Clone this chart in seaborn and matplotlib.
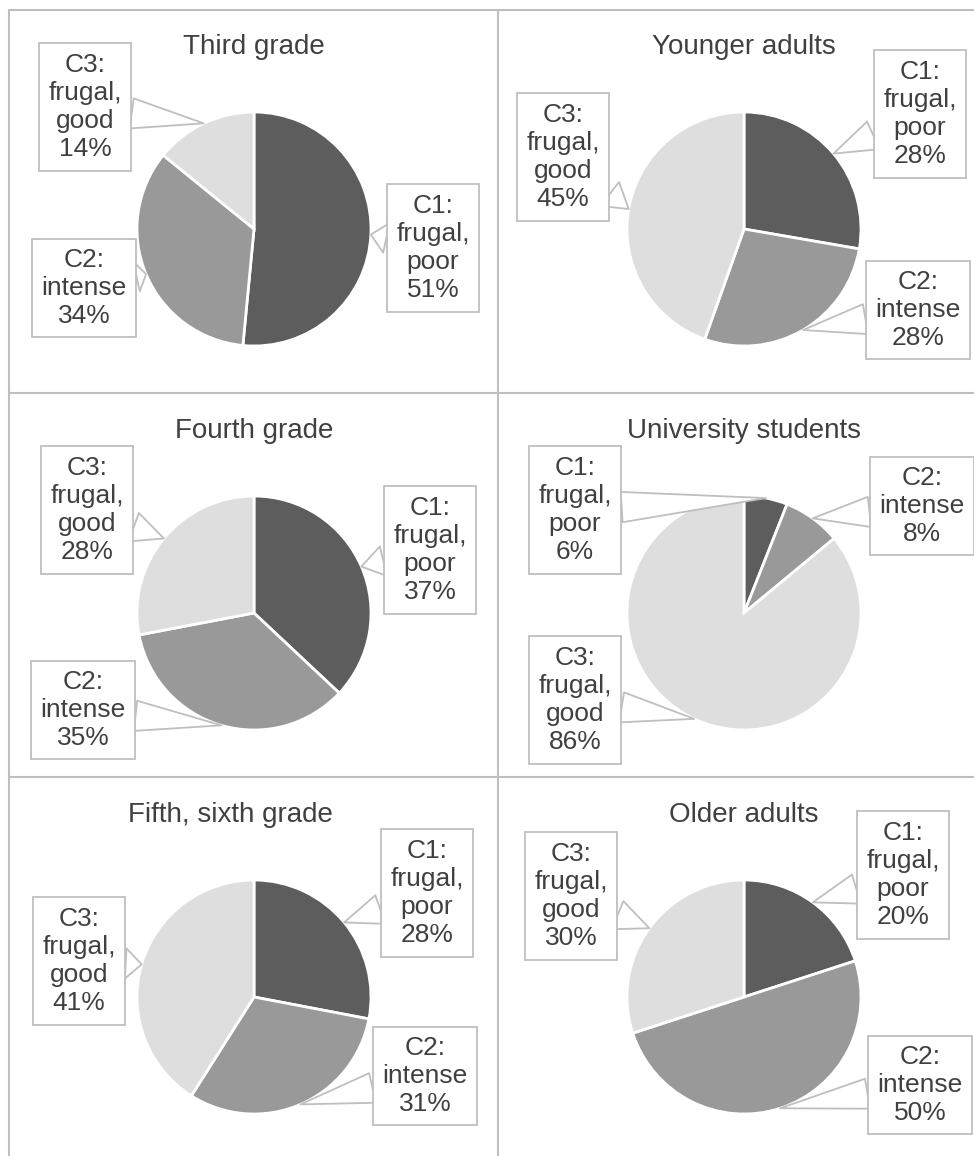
import numpy as np
import matplotlib
matplotlib.use('Agg')
import matplotlib.pyplot as plt
from matplotlib.lines import Line2D
import seaborn as sns

# data (percent of each group per cluster)
groups = ['Third grade', 'Younger adults', 'Fourth grade',
          'University students', 'Fifth, sixth grade', 'Older adults']
clusters = ['C1:\nfrugal,\npoor', 'C2:\nintense', 'C3:\nfrugal,\ngood']
third_grade = [51, 34, 14]
younger_adults = [28, 28, 45]
fourth_grade = [37, 35, 28]
university_students = [6, 8, 86]
fifth_sixth_grade = [28, 31, 41]
older_adults = [20, 50, 30]
shares = [third_grade, younger_adults, fourth_grade,
          university_students, fifth_sixth_grade, older_adults]

# layout (pixels, y downwards) - pie centres, title and label box offsets
W, H = 974, 1156
R = 117
S = 245
centres = [(254, 229), (744, 229), (254, 613), (744, 613), (254, 997), (744, 997)]
title_off = [(0, -182), (0, -182), (0, -182), (0, -182), (-24, -182), (0, -182)]
label_off = [
    [(179, 19), (-170, 59), (-169, -122)],
    [(176, -115), (174, 81), (-181, -72)],
    [(176, -63), (-171, 97), (-167, -103)],
    [(-169, -103), (178, -107), (-169, 87)],
    [(173, -104), (171, 79), (-175, -36)],
    [(159, -122), (176, 88), (-173, -101)],
]

sns.set_theme(style='white')
plt.rcParams['font.family'] = ['Liberation Sans', 'DejaVu Sans']
palette = sns.color_palette(['#5d5d5d', '#999999', '#dedede'])
TXT = '#404040'
EDGE = '#bfbfbf'

fig = plt.figure(figsize=(W / 100, H / 100), dpi=100)
fig.patch.set_facecolor('white')

# table grid lines
for (x0, y0, x1, y1) in [(9, 10, 974, 10), (9, 393, 974, 393), (9, 777, 974, 777),
                         (9, 10, 9, 1156), (498, 10, 498, 1156)]:
    fig.add_artist(Line2D([x0 / W, x1 / W], [1 - y0 / H, 1 - y1 / H],
                          color=EDGE, lw=1.5))

for i, (vals, title) in enumerate(zip(shares, groups)):
    cx, cy = centres[i]
    ax = fig.add_axes([(cx - S) / W, 1 - (cy + S) / H, 2 * S / W, 2 * S / H])
    wedges, _ = ax.pie(vals, colors=palette, startangle=90, counterclock=False,
                       radius=1, wedgeprops=dict(edgecolor='white', linewidth=2))
    lim = S / R
    ax.set_xlim(-lim, lim)
    ax.set_ylim(-lim, lim)
    ax.set_aspect('equal')
    ax.axis('off')

    tx, ty = title_off[i]
    ax.text(tx / R, -ty / R, title, ha='center', va='center',
            fontsize=20, color=TXT)

    for w, name, v, (dx, dy) in zip(wedges, clusters, vals, label_off[i]):
        ang = np.deg2rad((w.theta1 + w.theta2) / 2)
        ax.annotate(f'{name}\n{v}%', xy=(np.cos(ang), np.sin(ang)),
                    xytext=(dx / R, -dy / R), ha='center', va='center',
                    fontsize=19, color=TXT, linespacing=1.22,
                    bbox=dict(boxstyle='square,pad=0.35', fc='white', ec=EDGE, lw=1.3),
                    arrowprops=dict(arrowstyle='wedge,tail_width=1.15,shrink_factor=0.5',
                                    fc='white', ec=EDGE, lw=1.3,
                                    shrinkA=0, shrinkB=0))

fig.savefig('out.png', dpi=100, facecolor='white')
